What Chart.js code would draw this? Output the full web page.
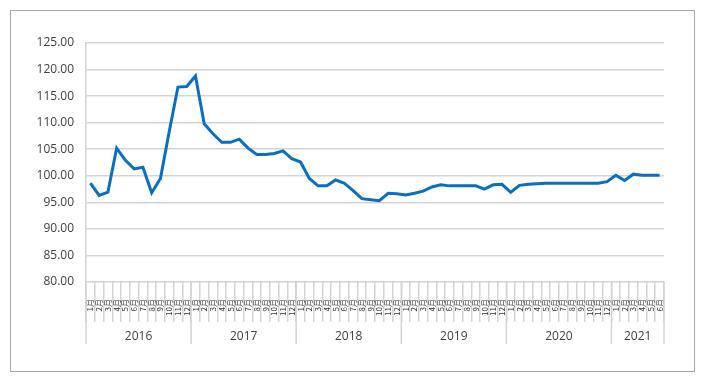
<!DOCTYPE html>
<html lang="zh">
<head>
    <meta charset="UTF-8">
    <title>指数走势</title>
    <script src="https://cdn.jsdelivr.net/npm/chart.js"></script>
    <style>
        html, body {
            margin: 0;
            padding: 0;
            background: #ffffff;
        }
        #wrap {
            position: relative;
            width: 701px;
            height: 382px;
        }
    </style>
</head>
<body>
    <div id="wrap">
        <canvas id="chart"></canvas>
    </div>

    <script>
        // 年份及每年的月份数
        const years = ['2016', '2017', '2018', '2019', '2020', '2021'];
        const monthsPerYear = [12, 12, 12, 12, 12, 6];

        // 指数数值 (2016年1月 - 2021年6月)
        const values2016 = [98.6, 96.3, 96.9, 105.2, 102.9, 101.3, 101.6, 96.8, 99.5, 108.3, 116.7, 116.8];
        const values2017 = [118.8, 109.8, 107.9, 106.3, 106.3, 106.9, 105.2, 104.0, 104.0, 104.2, 104.7, 103.2];
        const values2018 = [102.6, 99.5, 98.1, 98.1, 99.2, 98.6, 97.2, 95.7, 95.5, 95.3, 96.7, 96.6];
        const values2019 = [96.4, 96.7, 97.1, 97.9, 98.3, 98.1, 98.1, 98.1, 98.1, 97.5, 98.3, 98.4];
        const values2020 = [96.9, 98.2, 98.4, 98.5, 98.6, 98.6, 98.6, 98.6, 98.6, 98.6, 98.6, 98.9];
        const values2021 = [100.1, 99.1, 100.3, 100.1, 100.1, 100.1];

        const yMin = 80;
        const yMax = 125;
        const yStep = 5;

        // 月份标签
        const labels = [];
        monthsPerYear.forEach(n => {
            for (let m = 1; m <= n; m++) labels.push(m + '月');
        });
        const values = [].concat(values2016, values2017, values2018, values2019, values2020, values2021);

        const gridColor = '#d4d4d4';
        const textColor = '#404040';

        // 外框、年份分隔线和年份标签
        const yearAxisPlugin = {
            id: 'yearAxis',
            beforeDraw(chart) {
                const ctx = chart.ctx;
                ctx.save();
                ctx.strokeStyle = '#a6a6a6';
                ctx.lineWidth = 1;
                ctx.strokeRect(10.5, 10.5, 684, 361);
                ctx.restore();
            },
            afterDraw(chart) {
                const ctx = chart.ctx;
                const x = chart.scales.x;
                const area = chart.chartArea;
                const half = (x.getPixelForValue(1) - x.getPixelForValue(0)) / 2;
                ctx.save();
                ctx.strokeStyle = gridColor;
                ctx.lineWidth = 1.5;
                ctx.fillStyle = textColor;
                ctx.font = '12px "Open Sans", sans-serif';
                ctx.textAlign = 'center';
                ctx.textBaseline = 'middle';
                let start = 0;
                monthsPerYear.forEach((n, i) => {
                    const x0 = x.getPixelForValue(start) - half;
                    const x1 = x.getPixelForValue(start + n - 1) + half;
                    ctx.beginPath();
                    ctx.moveTo(x0, area.bottom);
                    ctx.lineTo(x0, area.bottom + 62);
                    ctx.stroke();
                    if (i === monthsPerYear.length - 1) {
                        ctx.beginPath();
                        ctx.moveTo(x1, area.bottom);
                        ctx.lineTo(x1, area.bottom + 62);
                        ctx.stroke();
                    }
                    ctx.fillText(years[i], (x0 + x1) / 2, area.bottom + 55);
                    start += n;
                });
                ctx.restore();
            }
        };

        new Chart(document.getElementById('chart').getContext('2d'), {
            type: 'line',
            data: {
                labels: labels,
                datasets: [{
                    data: values,
                    borderColor: '#0a6fc2',
                    borderWidth: 3,
                    pointRadius: 0,
                    tension: 0,
                    fill: false
                }]
            },
            options: {
                responsive: true,
                maintainAspectRatio: false,
                animation: false,
                layout: {
                    padding: { left: 0, right: 37, top: 43, bottom: 0 }
                },
                plugins: {
                    legend: { display: false },
                    tooltip: { enabled: false }
                },
                scales: {
                    x: {
                        type: 'category',
                        offset: true,
                        afterFit(scale) { scale.height = 100; },
                        grid: {
                            offset: true,
                            drawOnChartArea: false,
                            tickLength: 40,
                            color: gridColor,
                            lineWidth: 1.5
                        },
                        border: { display: false },
                        ticks: {
                            autoSkip: false,
                            minRotation: 90,
                            maxRotation: 90,
                            padding: -23,
                            color: '#303030',
                            font: { size: 8, family: '"Noto Sans CJK SC", sans-serif' }
                        }
                    },
                    y: {
                        min: yMin,
                        max: yMax,
                        afterFit(scale) { scale.width = 86; },
                        grid: {
                            color: gridColor,
                            lineWidth: 1.5,
                            drawTicks: false
                        },
                        border: { display: true, color: gridColor, width: 1.5 },
                        ticks: {
                            stepSize: yStep,
                            padding: 12,
                            color: textColor,
                            font: { size: 12, family: '"Open Sans", sans-serif' },
                            callback: v => v.toFixed(2)
                        }
                    }
                }
            },
            plugins: [yearAxisPlugin]
        });
    </script>
</body>
</html>
